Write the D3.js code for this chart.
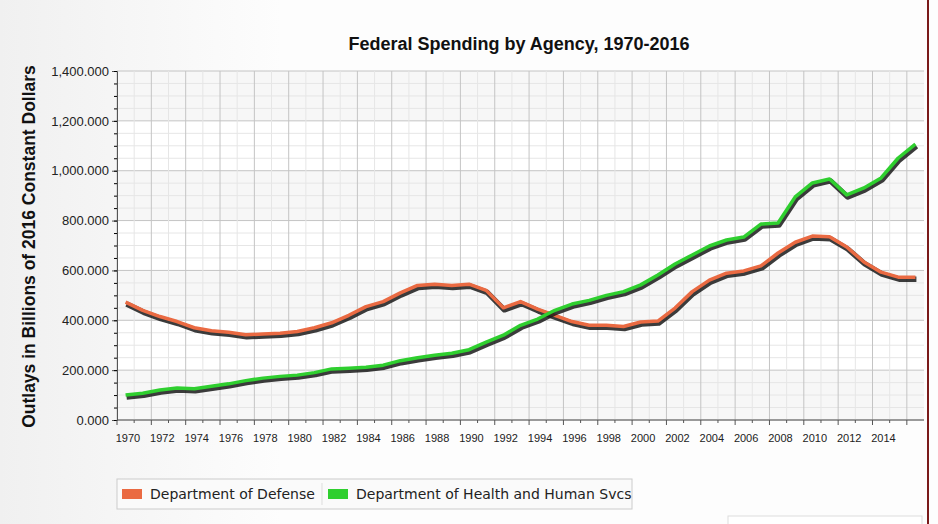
<!DOCTYPE html>
<html lang="en">
<head>
<meta charset="UTF-8">
<title>Federal Spending by Agency</title>
<script src="https://cdn.jsdelivr.net/npm/d3@7"></script>
<style>
  body { margin: 0; background: #fff; }
  text { font-family: "Liberation Sans", Arial, sans-serif; }
</style>
</head>
<body>
<svg id="main" width="938" height="524"></svg>
<script>
const years = d3.range(1970, 2017);
const defense = [473, 440, 415, 395, 370, 358, 352, 342, 345, 348, 355, 370, 390, 420, 455, 475, 510, 540, 545, 540, 545, 520, 450, 475, 445, 420, 395, 380, 380, 375,
  393, 397, 449, 515, 561, 589, 598, 618, 670, 713, 738, 735, 694, 634, 593, 573, 573];
const hhs = [100, 107, 120, 128, 125, 135, 145, 158, 168, 175, 180, 190, 205, 208, 212, 220, 238, 250, 260, 268, 282, 312, 340, 380, 405, 440, 465, 480, 500, 515,
  542, 582, 626, 662, 698, 722, 734, 786, 790, 895, 951, 967, 903, 931, 971, 1051, 1107];
const seriesNames = ["Department of Defense", "Department of Health and Human Svcs"];
const colors = ["#ea6a42", "#2fcf2f"];
const yTicks = [0, 200, 400, 600, 800, 1000, 1200, 1400];

const svg = d3.select("#main");
const L = 117, R = 924, T = 71, B = 420;

// background
const bg = svg.append("defs").append("linearGradient").attr("id", "bg").attr("x1", 0).attr("x2", 1);
bg.append("stop").attr("offset", 0).attr("stop-color", "#f0f0f0");
bg.append("stop").attr("offset", 0.3).attr("stop-color", "#fdfdfd");
svg.append("rect").attr("width", 938).attr("height", 524).attr("fill", "url(#bg)");
svg.append("rect").attr("x", 927).attr("y", 0).attr("width", 2).attr("height", 524).attr("fill", "#7a1a1a");

const x = d3.scaleBand().domain(years).range([L, R]);
const y = d3.scaleLinear().domain([0, 1400]).range([B, T]);

// plot area
svg.append("rect").attr("x", L).attr("y", T).attr("width", R - L).attr("height", B - T).attr("fill", "#fff");
yTicks.slice(0, -1).forEach((v, i) => {
  if (i % 2 === 0) svg.append("rect").attr("x", L).attr("y", y(v + 200)).attr("width", R - L)
    .attr("height", y(v) - y(v + 200)).attr("fill", "#f7f7f7");
});
const grid = svg.append("g");
d3.range(0, 1401, 50).forEach(v => {
  grid.append("line").attr("x1", L).attr("x2", R).attr("y1", y(v)).attr("y2", y(v))
    .attr("stroke", v % 200 === 0 ? "#c4c4c4" : "#e6e6e6");
});
years.forEach(yr => {
  const gx = x(yr);
  grid.append("line").attr("x1", gx).attr("x2", gx).attr("y1", T).attr("y2", B)
    .attr("stroke", yr % 2 === 0 ? "#c4c4c4" : "#e6e6e6");
});

// axes
const ya = svg.append("g").attr("transform", `translate(${L},0)`)
  .call(d3.axisLeft(y).tickValues(yTicks).tickFormat(d => d3.format(",")(d) + ".000").tickSize(5));
ya.selectAll("text").attr("font-size", 13).attr("fill", "#222");
svg.append("g").attr("transform", `translate(${L},0)`)
  .call(d3.axisLeft(y).tickValues(d3.range(0, 1401, 50)).tickFormat("").tickSize(3))
  .select(".domain").remove();
ya.selectAll("path,line").attr("stroke", "#555");

const xa = svg.append("g").attr("transform", `translate(0,${B})`);
xa.append("line").attr("x1", L).attr("x2", R).attr("stroke", "#555");
years.forEach(yr => {
  xa.append("line").attr("x1", x(yr)).attr("x2", x(yr)).attr("y2", yr % 2 === 0 ? 5 : 3).attr("stroke", "#555");
  if (yr % 2 === 0 && yr <= 2014)
    xa.append("text").attr("x", x(yr) + 11).attr("y", 22).attr("text-anchor", "middle")
      .attr("font-size", 11).attr("fill", "#222").text(yr);
});

// lines
const line = d3.line().x((d, i) => x(years[i]) + x.bandwidth() / 2).y(d => y(d));
[defense, hhs].forEach((s, k) => {
  svg.append("path").attr("d", line(s)).attr("fill", "none").attr("stroke", "#1a1a1a").attr("stroke-opacity", 0.85)
    .attr("stroke-width", 5.5).attr("stroke-linejoin", "round").attr("transform", "translate(1,2)");
  svg.append("path").attr("d", line(s)).attr("fill", "none").attr("stroke", colors[k])
    .attr("stroke-width", 3.5).attr("stroke-linejoin", "round");
});

// titles
svg.append("text").attr("x", 519).attr("y", 50).attr("text-anchor", "middle")
  .attr("font-size", 18).attr("font-weight", "bold").attr("fill", "#111").text("Federal Spending by Agency, 1970-2016");
svg.append("text").attr("transform", `translate(35,${(T + B) / 2 + 1}) rotate(-90)`).attr("text-anchor", "middle")
  .attr("font-size", 17.5).attr("font-weight", "bold").attr("fill", "#111").text("Outlays in Billions of 2016 Constant Dollars");

// legend
const lg = svg.append("g").attr("transform", "translate(117,479)");
lg.append("rect").attr("width", 515).attr("height", 30).attr("fill", "#fafafa").attr("stroke", "#ccc");
lg.append("line").attr("x1", 205).attr("x2", 205).attr("y1", 4).attr("y2", 26).attr("stroke", "#ddd");
[[5, 0], [211, 1]].forEach(([lx, k]) => {
  lg.append("rect").attr("x", lx).attr("y", 10).attr("width", 20).attr("height", 10).attr("fill", colors[k]);
  lg.append("text").attr("x", lx + 28).attr("y", 20).attr("font-size", 14).attr("fill", "#222")
    .style("font-family", "'DejaVu Sans', Verdana, sans-serif").text(seriesNames[k]);
});
svg.append("rect").attr("x", 728).attr("y", 516).attr("width", 194).attr("height", 12).attr("fill", "#fff").attr("stroke", "#ddd");
</script>
</body>
</html>
